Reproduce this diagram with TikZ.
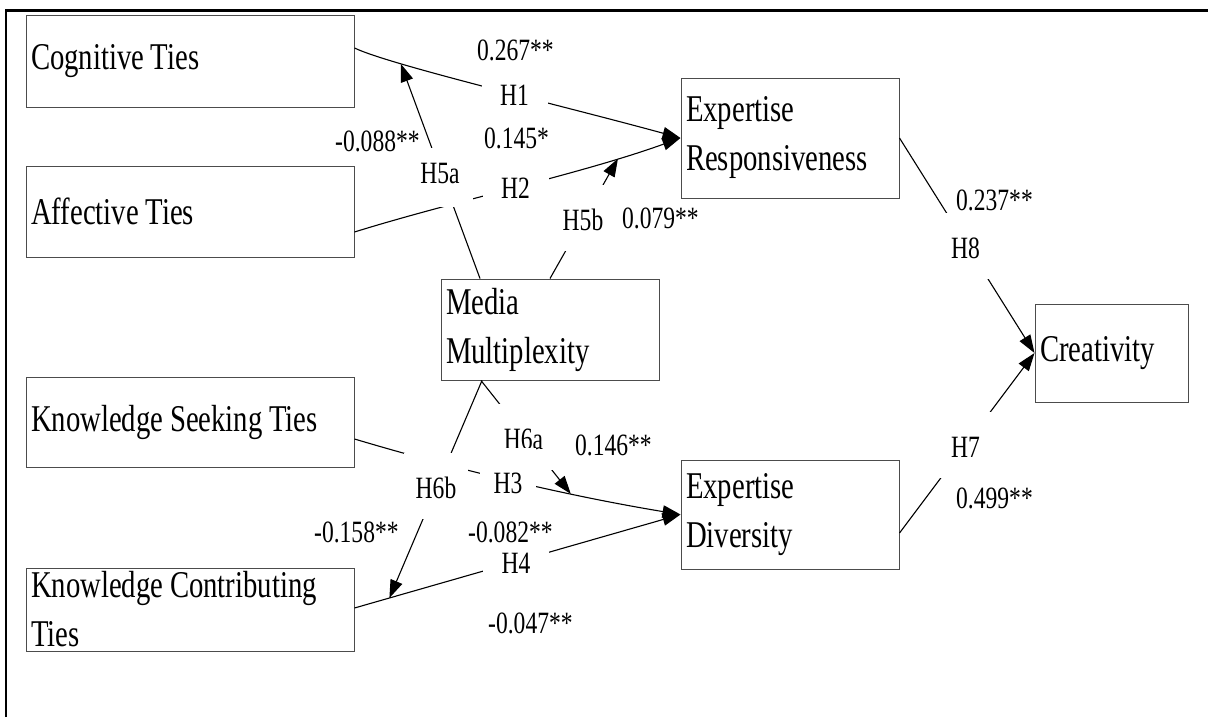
\documentclass[tikz,border=0pt]{standalone}
\usepackage{fontspec}
\setmainfont{Liberation Serif}[FakeStretch=0.76,WordSpace=0.92]
\usetikzlibrary{arrows.meta}
\begin{document}
\begin{tikzpicture}[x=1pt,y=-1pt,
  box/.style={draw=black!70, line width=1pt, inner xsep=5pt, inner ysep=0pt, align=flush left,
              font=\fontsize{37.8}{49}\selectfont},
  lab/.style={inner sep=0pt, font=\fontsize{31}{36}\selectfont, anchor=base west},
  hl/.style={fill=white, inner sep=0pt, font=\fontsize{31}{36}\selectfont,
             text height=45pt, text depth=21pt, minimum width=66pt, anchor=base},
  conn/.style={line width=1.1pt, -{Triangle[length=18pt,width=12.5pt]}}]

\useasboundingbox (0,0) rectangle (1209,717);

% outer frame (top and left rules only)
\draw[line width=2.7pt] (6,717) -- (6,10.5) -- (1208,10.5);

% boxes
\node[box, text width=318pt, minimum height=91pt] (cog) at (190,61.5) {Cognitive Ties};
\node[box, text width=318pt, minimum height=91pt] (aff) at (190,211.5) {Affective Ties};
\node[box, text width=318pt, minimum height=90pt] (ks) at (190,422) {Knowledge Seeking Ties};
\node[box, text width=318pt, minimum height=83pt] (kc) at (190,609.5) {Knowledge Contributing\\Ties};
\node[box, text width=208pt, minimum height=101pt] (mm) at (550,329.5) {Media\\Multiplexity};
\node[box, text width=208pt, minimum height=120pt] (exr) at (790,138) {Expertise\\Responsiveness};
\node[box, text width=208pt, minimum height=109pt] (exd) at (790,514.5) {Expertise\\Diversity};
\node[box, text width=143pt, minimum height=98pt] (cre) at (1111.5,353) {Creativity};

% main paths
\draw[conn] (cog.east |- 0,48) .. controls (390,65) and (560,105) .. (exr.west) coordinate[pos=0.24] (t5a);
\draw[conn] (aff.east |- 0,232) .. controls (454,201) and (581,174) .. (exr.west) coordinate[pos=0.8] (t5b);
\draw[conn] (ks.east |- 0,439) .. controls (461.7,471) and (570.7,496.3) .. (exd.west) coordinate[pos=0.666] (t6a);
\draw[conn] (kc.east |- 0,608) -- (exd.west) coordinate[pos=0.107] (t6b);
\draw[conn] (exr.east) -- (cre.west);
\draw[conn] (exd.east |- 0,533) -- (cre.west);

% moderation paths
\draw[conn] (mm.north -| 480,0) -- (t5a);
\draw[conn] (mm.north) -- (t5b);
\draw[conn] (mm.south -| 481,0) -- (t6a);
\draw[conn] (mm.south -| 482,0) -- (t6b);

% hypothesis labels (white boxes interrupt the lines)
\node[hl] (lh1) at (514.5,105) {H1};
\node[hl] (lh2) at (515.5,198) {H2};
\node[hl, text height=35pt, text depth=24pt] (lh5a) at (440,183) {H5a};
\node[hl] (lh5b) at (583,230) {H5b};
\node[hl] (lh8) at (965.5,258) {H8};
\node[hl] (lh7) at (965.5,457) {H7};
\node[hl] (lh6a) at (523.5,449) {H6a};
\node[hl, minimum width=64pt] (lh6b) at (436,498) {H6b};
\node[hl, minimum width=56pt] (lh3) at (508,493) {H3};
\node[hl] (lh4) at (516,573) {H4};

% coefficients
\node[lab] (v1) at (477,60) {0.267**};
\node[lab] (v2) at (484,148) {0.145*};
\node[lab] (v5a) at (335,151) {-0.088**};
\node[lab] (v5b) at (622,228) {0.079**};
\node[lab] (v8) at (956,210) {0.237**};
\node[lab] (v7) at (956,508) {0.499**};
\node[lab] (v6a) at (575,455) {0.146**};
\node[lab] (v6b) at (314,542) {-0.158**};
\node[lab] (v3) at (468,542) {-0.082**};
\node[lab] (v4) at (488,633) {-0.047**};
\end{tikzpicture}
\end{document}
